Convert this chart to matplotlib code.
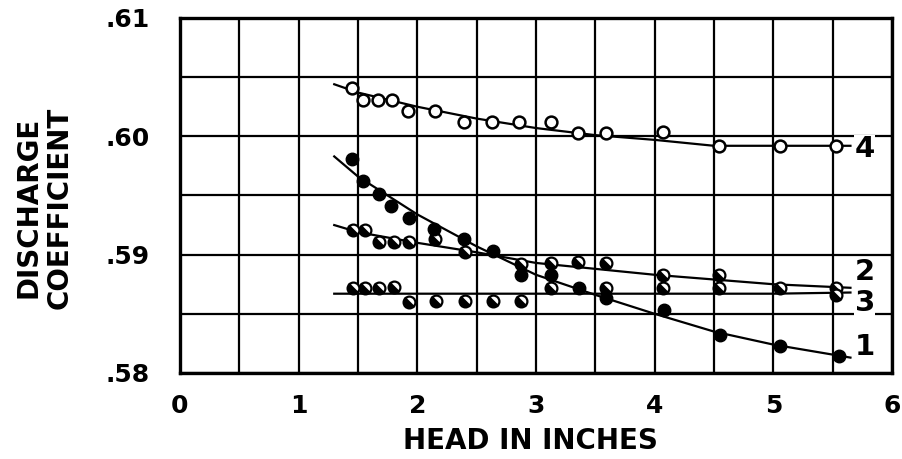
import numpy as np
import matplotlib
matplotlib.use("Agg")
import matplotlib.pyplot as plt
from matplotlib.markers import MarkerStyle
from matplotlib.transforms import Affine2D

# measured points (head in inches, discharge coefficient)
head_1 = [1.45, 1.54, 1.68, 1.78, 1.93, 2.14, 2.39, 2.64, 2.87, 3.13, 3.36, 3.59, 4.08, 4.55, 5.06, 5.55]
coef_1 = [0.5981, 0.5962, 0.5951, 0.5941, 0.5931, 0.5922, 0.5913, 0.5903, 0.5883, 0.5883, 0.5872, 0.5863, 0.5853, 0.5832, 0.5823, 0.5814]

head_2 = [1.46, 1.56, 1.68, 1.80, 1.93, 2.15, 2.40, 2.87, 3.13, 3.35, 3.59, 4.07, 4.54, 5.06, 5.53]
coef_2 = [0.5921, 0.5921, 0.5911, 0.5911, 0.5911, 0.5913, 0.5902, 0.5892, 0.5893, 0.5894, 0.5893, 0.5883, 0.5883, 0.5872, 0.5872]

head_3 = [1.46, 1.56, 1.68, 1.80, 1.93, 2.16, 2.40, 2.64, 2.87, 3.13, 3.59, 4.07, 4.54, 5.53]
coef_3 = [0.5872, 0.5872, 0.5872, 0.5873, 0.5860, 0.5861, 0.5861, 0.5861, 0.5861, 0.5872, 0.5872, 0.5872, 0.5872, 0.5866]

head_4 = [1.45, 1.54, 1.67, 1.79, 1.92, 2.15, 2.39, 2.63, 2.86, 3.13, 3.35, 3.59, 4.07, 4.54, 5.06, 5.53]
coef_4 = [0.6041, 0.6031, 0.6031, 0.6031, 0.6021, 0.6021, 0.6012, 0.6012, 0.6012, 0.6012, 0.6003, 0.6003, 0.6004, 0.5992, 0.5992, 0.5992]

# hand-drawn curves
curve_x = [1.3, 1.5, 2.0, 2.5, 3.0, 3.5, 4.0, 4.5, 5.0, 5.65]
curve_1 = [0.5983, 0.5966, 0.5934, 0.5907, 0.5883, 0.5866, 0.5850, 0.5835, 0.5824, 0.5813]
curve_2 = [0.5925, 0.5919, 0.5910, 0.5902, 0.5893, 0.5888, 0.5883, 0.5879, 0.5875, 0.5872]
curve_3 = [0.5867, 0.5867, 0.5867, 0.5867, 0.5867, 0.5867, 0.5867, 0.5867, 0.5867, 0.5868]
curve_4 = [0.6044, 0.6037, 0.6025, 0.6015, 0.6007, 0.6001, 0.5997, 0.5992, 0.5992, 0.5992]

curve_names = ["1", "2", "3", "4"]

x_ticks = [0, 1, 2, 3, 4, 5, 6]
x_labels = ["0", "1", "2", "3", "4", "5", "6"]
y_ticks = [0.58, 0.59, 0.60, 0.61]
y_labels = [".58", ".59", ".60", ".61"]

plt.rcParams['font.family'] = ['DejaVu Sans']
plt.rcParams['font.weight'] = 'bold'

fig = plt.figure(figsize=(9.03, 4.59), dpi=100)
ax = fig.add_axes([0.1993, 0.1874, 0.7885, 0.7734])

ax.set_xlim(0, 6)
ax.set_ylim(0.58, 0.61)
ax.set_xticks(x_ticks)
ax.set_xticklabels(x_labels)
ax.set_yticks(y_ticks)
ax.set_yticklabels(y_labels)
ax.set_xticks(np.arange(0, 6.01, 0.5), minor=True)
ax.set_yticks(np.arange(0.58, 0.6101, 0.005), minor=True)
ax.tick_params(which='both', length=0)
ax.tick_params(axis='x', pad=15, labelsize=18)
ax.tick_params(axis='y', pad=22, labelsize=18)
ax.grid(which='both', color='black', linewidth=1.6)
ax.set_axisbelow(True)
for s in ax.spines.values():
    s.set_linewidth(2.4)

# curves
for cy in [curve_1, curve_2, curve_3, curve_4]:
    ax.plot(curve_x, cy, color='black', lw=1.6, zorder=3)

half = MarkerStyle('o', fillstyle='bottom', transform=Affine2D().rotate_deg(-45))

ax.plot(head_4, coef_4, 'o', ms=8.5, mfc='white', mec='black', mew=1.8, zorder=4)
ax.plot(head_1, coef_1, 'o', ms=9, mfc='black', mec='black', zorder=5)
ax.plot(head_2, coef_2, ls='none', marker=half, ms=8.5, color='black', mfc='black',
        mfcalt='white', mec='black', mew=1.6, zorder=4)
ax.plot(head_3, coef_3, ls='none', marker=half, ms=8.5, color='black', mfc='black',
        mfcalt='white', mec='black', mew=1.6, zorder=4)

# curve numbers at the right end
label_y = [0.5822, 0.5885, 0.5859, 0.5989]
for name, ly in zip(curve_names, label_y):
    ax.text(5.77, ly, name, fontsize=21, fontweight='bold', ha='center', va='center',
            zorder=6, bbox=dict(facecolor='white', edgecolor='none', pad=0.5))

fig.text(0.049, 0.548, "DISCHARGE\nCOEFFICIENT", rotation=90, ha='center', va='center',
         fontsize=20, fontweight='bold', linespacing=1.12, multialignment='center')
fig.text(0.587, 0.039, "HEAD IN INCHES", ha='center', va='center', fontsize=20, fontweight='bold')

fig.savefig("out.png", dpi=100)
